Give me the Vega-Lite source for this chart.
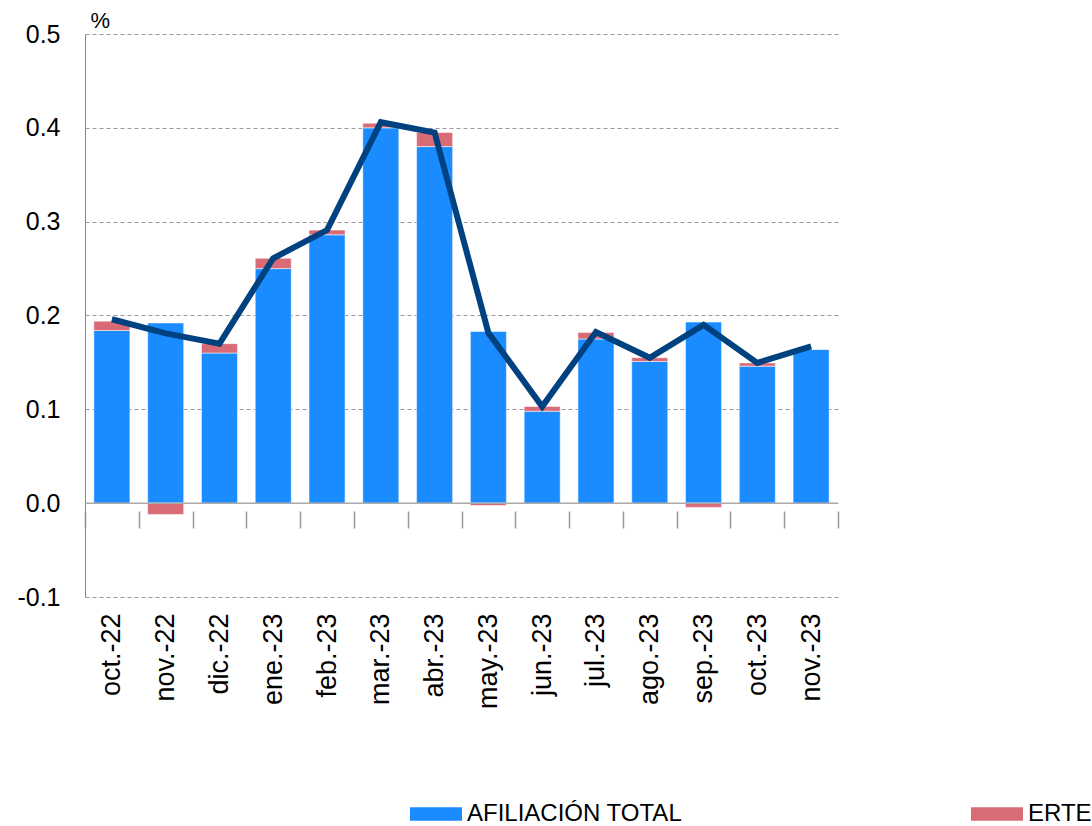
{
  "$schema": "https://vega.github.io/schema/vega-lite/v6.json",
  "width": 753,
  "height": 563,
  "autosize": {"type": "none"},
  "padding": {"left": 85, "top": 34, "right": 254, "bottom": 229},
  "background": "white",
  "config": {"view": {"stroke": null}, "font": "Liberation Sans"},
  "datasets": {
    "barras": [
      {"mes": "oct.-22", "serie": "AFILIACIÓN TOTAL", "valor": 0.184},
      {"mes": "oct.-22", "serie": "ERTE", "valor": 0.010},
      {"mes": "nov.-22", "serie": "AFILIACIÓN TOTAL", "valor": 0.192},
      {"mes": "nov.-22", "serie": "ERTE", "valor": -0.012},
      {"mes": "dic.-22", "serie": "AFILIACIÓN TOTAL", "valor": 0.160},
      {"mes": "dic.-22", "serie": "ERTE", "valor": 0.010},
      {"mes": "ene.-23", "serie": "AFILIACIÓN TOTAL", "valor": 0.250},
      {"mes": "ene.-23", "serie": "ERTE", "valor": 0.011},
      {"mes": "feb.-23", "serie": "AFILIACIÓN TOTAL", "valor": 0.286},
      {"mes": "feb.-23", "serie": "ERTE", "valor": 0.005},
      {"mes": "mar.-23", "serie": "AFILIACIÓN TOTAL", "valor": 0.400},
      {"mes": "mar.-23", "serie": "ERTE", "valor": 0.005},
      {"mes": "abr.-23", "serie": "AFILIACIÓN TOTAL", "valor": 0.380},
      {"mes": "abr.-23", "serie": "ERTE", "valor": 0.015},
      {"mes": "may.-23", "serie": "AFILIACIÓN TOTAL", "valor": 0.183},
      {"mes": "may.-23", "serie": "ERTE", "valor": -0.0025},
      {"mes": "jun.-23", "serie": "AFILIACIÓN TOTAL", "valor": 0.098},
      {"mes": "jun.-23", "serie": "ERTE", "valor": 0.005},
      {"mes": "jul.-23", "serie": "AFILIACIÓN TOTAL", "valor": 0.175},
      {"mes": "jul.-23", "serie": "ERTE", "valor": 0.007},
      {"mes": "ago.-23", "serie": "AFILIACIÓN TOTAL", "valor": 0.151},
      {"mes": "ago.-23", "serie": "ERTE", "valor": 0.004},
      {"mes": "sep.-23", "serie": "AFILIACIÓN TOTAL", "valor": 0.193},
      {"mes": "sep.-23", "serie": "ERTE", "valor": -0.0045},
      {"mes": "oct.-23", "serie": "AFILIACIÓN TOTAL", "valor": 0.146},
      {"mes": "oct.-23", "serie": "ERTE", "valor": 0.0035},
      {"mes": "nov.-23", "serie": "AFILIACIÓN TOTAL", "valor": 0.164},
      {"mes": "nov.-23", "serie": "ERTE", "valor": 0.0}
    ],
    "total": [
      {"mes": "oct.-22", "total": 0.196},
      {"mes": "nov.-22", "total": 0.181},
      {"mes": "dic.-22", "total": 0.170},
      {"mes": "ene.-23", "total": 0.261},
      {"mes": "feb.-23", "total": 0.291},
      {"mes": "mar.-23", "total": 0.406},
      {"mes": "abr.-23", "total": 0.395},
      {"mes": "may.-23", "total": 0.1815},
      {"mes": "jun.-23", "total": 0.103},
      {"mes": "jul.-23", "total": 0.1825},
      {"mes": "ago.-23", "total": 0.155},
      {"mes": "sep.-23", "total": 0.190},
      {"mes": "oct.-23", "total": 0.1495},
      {"mes": "nov.-23", "total": 0.167}
    ],
    "cero": [{"v": 0}]
  },
  "layer": [
    {
      "data": {"name": "barras"},
      "mark": {"type": "bar", "width": {"band": 0.67}, "stroke": "white", "strokeWidth": 1, "strokeOpacity": 0.5},
      "encoding": {
        "x": {
          "field": "mes",
          "type": "nominal",
          "sort": ["oct.-22", "nov.-22", "dic.-22", "ene.-23", "feb.-23", "mar.-23", "abr.-23", "may.-23", "jun.-23", "jul.-23", "ago.-23", "sep.-23", "oct.-23", "nov.-23"],
          "scale": {"paddingInner": 0, "paddingOuter": 0},
          "axis": {
            "title": null,
            "labelAngle": -90,
            "labelFontSize": 27,
            "labelFont": "Liberation Sans",
            "labelColor": "black",
            "labelPadding": 85,
            "tickBand": "extent",
            "tickSize": 17,
            "tickColor": "#999",
            "tickWidth": 1.5,
            "domain": false,
            "grid": false,
            "offset": -86
          }
        },
        "y": {
          "field": "valor",
          "type": "quantitative",
          "stack": "zero",
          "scale": {"domain": [-0.1, 0.5], "nice": false, "zero": false},
          "axis": {
            "title": "%",
            "titleAngle": 0,
            "titleX": 5,
            "titleY": -7,
            "titleAlign": "left",
            "titleBaseline": "alphabetic",
            "titleFontSize": 22,
            "titleFontWeight": "normal",
            "titleFont": "Liberation Sans",
            "titleColor": "black",
            "values": [-0.1, 0, 0.1, 0.2, 0.3, 0.4, 0.5],
            "labelExpr": "datum.value < 0 ? '-' + format(-datum.value, '.1f') : format(datum.value, '.1f')",
            "labelFontSize": 25,
            "labelFont": "Liberation Sans",
            "labelColor": "black",
            "labelPadding": 25,
            "ticks": false,
            "domainColor": "#888",
            "domainWidth": 1,
            "gridColor": "#999",
            "gridDash": [4, 3],
            "gridWidth": 1
          }
        },
        "color": {
          "field": "serie",
          "type": "nominal",
          "scale": {"domain": ["AFILIACIÓN TOTAL", "ERTE"], "range": ["#1a8cff", "#d96b77"]},
          "legend": {
            "title": null,
            "orient": "none",
            "direction": "horizontal",
            "legendX": 325,
            "legendY": 754,
            "padding": 0,
            "symbolType": "M-1,-0.26H1V0.26H-1Z",
            "symbolSize": 2704,
            "symbolStrokeWidth": 0,
            "symbolOpacity": 1,
            "labelFontSize": 24,
            "labelFont": "Liberation Sans",
            "labelColor": "black",
            "labelOffset": 5,
            "labelLimit": 400,
            "columnPadding": 288
          }
        },
        "order": {"field": "serie", "type": "nominal", "sort": "ascending"}
      }
    },
    {
      "data": {"name": "cero"},
      "mark": {"type": "rule", "color": "#aaa", "strokeWidth": 1.5},
      "encoding": {"y": {"field": "v", "type": "quantitative"}}
    },
    {
      "data": {"name": "total"},
      "mark": {"type": "line", "color": "#00417f", "strokeWidth": 6, "strokeJoin": "miter"},
      "encoding": {
        "x": {"field": "mes", "type": "nominal", "sort": ["oct.-22", "nov.-22", "dic.-22", "ene.-23", "feb.-23", "mar.-23", "abr.-23", "may.-23", "jun.-23", "jul.-23", "ago.-23", "sep.-23", "oct.-23", "nov.-23"]},
        "y": {"field": "total", "type": "quantitative"}
      }
    }
  ]
}
